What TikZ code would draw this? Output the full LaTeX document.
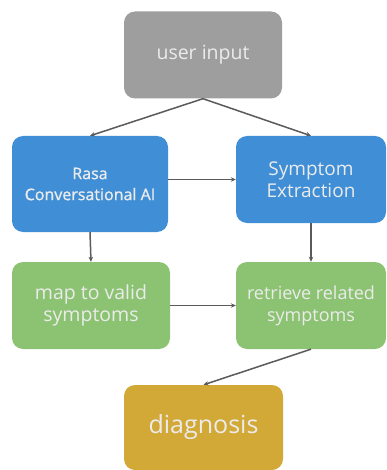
\documentclass[tikz,border=0pt]{standalone}
\usepackage{fontspec}
\setmainfont{Open Sans}
\newfontfamily\semibold[FakeBold=1.2]{Open Sans}
\usetikzlibrary{arrows.meta}
\definecolor{boxgray}{HTML}{9E9E9E}
\definecolor{boxblue}{HTML}{3F8ED6}
\definecolor{boxgreen}{HTML}{8CC373}
\definecolor{boxgold}{HTML}{D2A936}
\definecolor{linegray}{HTML}{5A5A5A}
\begin{document}
\begin{tikzpicture}[x=1pt,y=-1pt,
    box/.style={rounded corners=11pt, text=white!92!black, align=center,
      inner sep=0pt, minimum height=87pt},
    gray box/.style={box, fill=boxgray, minimum width=158pt},
    blue box/.style={box, fill=boxblue, minimum width=152pt},
    green box/.style={box, fill=boxgreen, minimum width=154pt},
    gold box/.style={box, fill=boxgold, minimum width=159pt}]
  \useasboundingbox (0,0) rectangle (387,470);
  \draw
    (203,55) node[gray box, font=\fontsize{19.5}{22}\selectfont] (input){user input}
    (90,184) node[blue box, minimum width=156pt, minimum height=96pt,
      font=\fontsize{16}{21}\selectfont\semibold] (rasa){Rasa\\Conversational AI}
    (311,179.5) node[blue box, minimum width=150pt,
      font=\fontsize{19}{22}\selectfont] (extract){Symptom\\Extraction}
    (91,305.5) node[green box, minimum width=158pt,
      font=\fontsize{19.5}{22}\selectfont] (map){map to valid\\symptoms}
    (311,305.5) node[green box, minimum width=150pt,
      font=\fontsize{18}{22}\selectfont] (retrieve){retrieve related\\symptoms}
    (203.5,427.5) node[gold box, minimum height=85pt,
      font=\fontsize{25}{26}\selectfont] (diag){diagnosis};
  \begin{scope}[->, >={Stealth[length=5pt,width=4.5pt]}, draw=linegray, line width=1.5pt]
    \draw (input.south) to (rasa.north);
    \draw (input.south) to (extract.north);
    \draw (extract.west -| rasa.east) to (extract.west);
    \draw (rasa.south) to (map.north);
    \draw (extract.south) to (retrieve.north);
    \draw (map.east) to (retrieve.west);
    \draw (retrieve.south) to (diag.north);
  \end{scope}
\end{tikzpicture}
\end{document}
